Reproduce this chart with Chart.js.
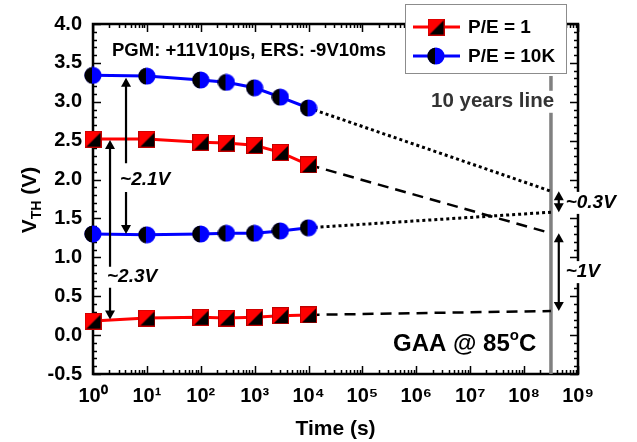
<!doctype html>
<html lang="en">
<head>
<meta charset="utf-8">
<title>VTH retention GAA 85C</title>
<style>
  html, body { margin: 0; padding: 0; background: #fff; }
  canvas { display: block; }
</style>
</head>
<body>
<canvas id="vth" width="637" height="442"></canvas>
<script src="https://cdn.jsdelivr.net/npm/chart.js@4.4.0/dist/chart.umd.min.js"></script>
<script>
// measured data (s, V)
const times = [1, 10, 100, 300, 1000, 3000, 10000];
const pe1Program = [2.52, 2.52, 2.48, 2.47, 2.44, 2.35, 2.19];
const pe1Erase = [0.18, 0.22, 0.23, 0.22, 0.23, 0.25, 0.26];
const pe10kProgram = [3.34, 3.33, 3.28, 3.25, 3.18, 3.06, 2.92];
const pe10kErase = [1.30, 1.29, 1.30, 1.31, 1.31, 1.34, 1.38];

// extrapolation to 10 years: pe1 prog, pe1 ers, 10k prog, 10k ers
const tenYears = 3.15e8;
const extrapTenYears = [1.31, 0.31, 1.85, 1.58];
const tenYearLineRange = [3.33, -0.5];

const xTickExponents = [0, 1, 2, 3, 4, 5, 6, 7, 8, 9];
const yTickValues = [-0.5, 0.0, 0.5, 1.0, 1.5, 2.0, 2.5, 3.0, 3.5, 4.0];

const FONT = "'Liberation Sans', Arial, sans-serif";
const SUP = '⁰¹²³⁴⁵⁶⁷⁸⁹';

function squareMarker() {
  const c = document.createElement('canvas');
  c.width = 17; c.height = 17;
  const g = c.getContext('2d');
  g.fillStyle = '#ff0000';
  g.fillRect(0, 0, 17, 17);
  g.fillStyle = '#000';
  g.beginPath(); g.moveTo(17, 1); g.lineTo(17, 17); g.lineTo(1, 17); g.closePath(); g.fill();
  g.strokeStyle = '#c00000'; g.lineWidth = 1;
  g.strokeRect(0.5, 0.5, 16, 16);
  return c;
}

function circleMarker() {
  const c = document.createElement('canvas');
  c.width = 18; c.height = 18;
  const g = c.getContext('2d');
  g.fillStyle = '#0000ff';
  g.beginPath(); g.arc(9, 9, 8.6, 0, Math.PI * 2); g.fill();
  g.save();
  g.beginPath(); g.arc(9, 9, 8.6, 0, Math.PI * 2); g.clip();
  g.fillStyle = '#000';
  g.fillRect(0, 0, 8, 18);
  g.restore();
  return c;
}

const sq = squareMarker();
const ci = circleMarker();

function series(vals, color, marker) {
  return {
    data: times.map((t, i) => ({ x: t, y: vals[i] })),
    borderColor: color, borderWidth: 3,
    pointStyle: marker, pointRadius: 8, clip: false, order: 1
  };
}

function extrap(vals, end, dash, width) {
  return {
    data: [{ x: times[times.length - 1], y: vals[vals.length - 1] }, { x: tenYears, y: end }],
    borderColor: '#000', borderWidth: width, borderDash: dash,
    pointRadius: 0, order: 2
  };
}

const datasets = [
  series(pe1Program, '#ff0000', sq),
  series(pe1Erase, '#ff0000', sq),
  series(pe10kProgram, '#0000ff', ci),
  series(pe10kErase, '#0000ff', ci),
  extrap(pe1Program, extrapTenYears[0], [11, 7], 2.5),
  extrap(pe1Erase, extrapTenYears[1], [11, 7], 2.5),
  extrap(pe10kProgram, extrapTenYears[2], [3, 3], 3),
  extrap(pe10kErase, extrapTenYears[3], [3, 3], 3),
  {
    data: [{ x: tenYears, y: tenYearLineRange[0] }, { x: tenYears, y: tenYearLineRange[1] }],
    borderColor: '#808080', borderWidth: 3.5, pointRadius: 0, order: 3
  }
];

// frame with inward ticks on all four sides
const framePlugin = {
  id: 'frame',
  beforeDatasetsDraw(chart) {
    const ctx = chart.ctx, a = chart.chartArea;
    const xs = chart.scales.x, ys = chart.scales.y;
    ctx.save();
    ctx.strokeStyle = '#000';
    ctx.lineWidth = 1.5;
    ctx.beginPath();
    for (let e = 0; e <= 9; e++) {
      for (let m = 1; m <= 9; m++) {
        if (e === 9 && m > 1) break;
        const px = Math.round(xs.getPixelForValue(m * Math.pow(10, e))) + 0.5;
        const len = m === 1 ? 8 : 4;
        ctx.moveTo(px, a.bottom); ctx.lineTo(px, a.bottom - len);
        ctx.moveTo(px, a.top); ctx.lineTo(px, a.top + len);
      }
    }
    for (let k = -5; k <= 40; k++) {
      const py = Math.round(ys.getPixelForValue(k / 10)) + 0.5;
      const len = k % 5 === 0 ? 8 : 4;
      ctx.moveTo(a.left, py); ctx.lineTo(a.left + len, py);
      ctx.moveTo(a.right, py); ctx.lineTo(a.right - len, py);
    }
    ctx.stroke();
    ctx.lineWidth = 2.5;
    ctx.strokeRect(a.left, a.top, a.right - a.left, a.bottom - a.top);
    ctx.restore();
  }
};

function head(ctx, x, y, dir) {
  ctx.beginPath();
  ctx.moveTo(x, y);
  ctx.lineTo(x - 5, y - dir * 9);
  ctx.lineTo(x + 5, y - dir * 9);
  ctx.closePath();
  ctx.fill();
}

function arrow(chart, x, top, bottom, gapTop, gapBottom) {
  const ctx = chart.ctx;
  const px = chart.scales.x.getPixelForValue(x);
  const y1 = chart.scales.y.getPixelForValue(top);
  const y2 = chart.scales.y.getPixelForValue(bottom);
  ctx.save();
  ctx.strokeStyle = '#000'; ctx.fillStyle = '#000'; ctx.lineWidth = 2.2;
  ctx.beginPath();
  if (gapTop !== undefined) {
    const g1 = chart.scales.y.getPixelForValue(gapTop);
    const g2 = chart.scales.y.getPixelForValue(gapBottom);
    ctx.moveTo(px, y1 + 5); ctx.lineTo(px, g1);
    ctx.moveTo(px, g2); ctx.lineTo(px, y2 - 5);
  } else {
    ctx.moveTo(px, y1 + 5); ctx.lineTo(px, y2 - 5);
  }
  ctx.stroke();
  head(ctx, px, y1, -1);
  head(ctx, px, y2, 1);
  ctx.restore();
}

function italicLabel(chart, text, x, y, boxed) {
  const ctx = chart.ctx;
  ctx.save();
  ctx.font = 'italic bold 19px ' + FONT;
  ctx.textBaseline = 'middle';
  ctx.textAlign = 'left';
  const px = chart.scales.x.getPixelForValue(x), py = chart.scales.y.getPixelForValue(y);
  if (boxed) {
    ctx.fillStyle = '#fff';
    ctx.fillRect(px - 1, py - 11, ctx.measureText(text).width + 3, 22);
  }
  ctx.fillStyle = '#000';
  ctx.fillText(text, px, py);
  ctx.restore();
}

const notesPlugin = {
  id: 'notes',
  afterDraw(chart) {
    const ctx = chart.ctx, a = chart.chartArea;
    const xs = chart.scales.x, ys = chart.scales.y;

    // ten-year line label over the grey line
    ctx.save();
    ctx.font = 'bold 20.5px ' + FONT;
    ctx.textAlign = 'center';
    ctx.textBaseline = 'middle';
    const tx = xs.getPixelForValue(2.6e7), ty = ys.getPixelForValue(3.0);
    const tw = ctx.measureText('10 years line').width;
    ctx.fillStyle = '#fff';
    ctx.fillRect(tx - tw / 2 - 2, ty - 11, tw + 4, 22);
    ctx.fillStyle = '#333';
    ctx.fillText('10 years line', tx, ty);
    ctx.restore();

    // window arrows
    arrow(chart, 4.1, pe10kProgram[0] - 0.03, pe10kErase[0], 2.21, 1.84);
    arrow(chart, 2.07, pe1Program[0] - 0.01, pe1Erase[0] + 0.02, 0.88, 0.61);
    arrow(chart, 4.4e8, extrapTenYears[2], extrapTenYears[3]);
    arrow(chart, 4.4e8, extrapTenYears[0], extrapTenYears[1]);
    italicLabel(chart, '~2.1V', 3.18, 2.0, false);
    italicLabel(chart, '~2.3V', 1.82, 0.75, false);
    italicLabel(chart, '~0.3V', 5.9e8, 1.70, true);
    italicLabel(chart, '~1V', 5.9e8, 0.81, true);

    // condition text
    ctx.save();
    ctx.fillStyle = '#000';
    ctx.textBaseline = 'alphabetic';
    ctx.font = 'bold 18.5px ' + FONT;
    ctx.fillText('PGM: +11V10μs, ERS: -9V10ms', a.left + 19, 56);
    ctx.font = 'bold 24px ' + FONT;
    let gx = 393, gy = 351;
    ctx.fillText('GAA @ 85', gx, gy);
    gx += ctx.measureText('GAA @ 85').width;
    ctx.font = 'bold 15px ' + FONT;
    ctx.fillText('o', gx, gy - 11);
    gx += ctx.measureText('o').width;
    ctx.font = 'bold 24px ' + FONT;
    ctx.fillText('C', gx, gy);
    ctx.restore();

    // y axis title with subscript
    ctx.save();
    ctx.translate(36, 200);
    ctx.rotate(-Math.PI / 2);
    ctx.fillStyle = '#000';
    ctx.textBaseline = 'alphabetic';
    const parts = [['V', 'bold 21px ', 0], ['TH', 'bold 14px ', 5], [' (V)', 'bold 21px ', 0]];
    let w = 0;
    parts.forEach(p => { ctx.font = p[1] + FONT; w += ctx.measureText(p[0]).width; });
    let cx = -w / 2;
    parts.forEach(p => {
      ctx.font = p[1] + FONT;
      ctx.fillText(p[0], cx, p[2]);
      cx += ctx.measureText(p[0]).width;
    });
    ctx.restore();

    // legend
    ctx.save();
    ctx.fillStyle = '#fff';
    ctx.fillRect(405, 4, 161, 69);
    ctx.strokeStyle = '#8c8c8c';
    ctx.lineWidth = 1;
    ctx.strokeRect(405.5, 4.5, 161, 69);
    const rows = [['P/E = 1', '#ff0000', sq, 27], ['P/E = 10K', '#0000ff', ci, 56]];
    rows.forEach(r => {
      ctx.strokeStyle = r[1];
      ctx.lineWidth = 3;
      ctx.beginPath(); ctx.moveTo(413, r[3]); ctx.lineTo(460, r[3]); ctx.stroke();
      ctx.drawImage(r[2], 436 - r[2].width / 2, r[3] - r[2].height / 2);
      ctx.font = 'bold 19px ' + FONT;
      ctx.fillStyle = '#000';
      ctx.textBaseline = 'middle';
      ctx.fillText(r[0], 468, r[3] + 1);
    });
    ctx.restore();
  }
};

new Chart(document.getElementById('vth'), {
  type: 'line',
  data: { datasets },
  options: {
    responsive: false,
    animation: false,
    devicePixelRatio: 1,
    layout: { padding: { left: 0, right: 59, top: 24, bottom: 0 } },
    plugins: { legend: { display: false }, tooltip: { enabled: false } },
    scales: {
      x: {
        type: 'logarithmic', min: 1, max: 1e9,
        grid: { display: false, drawTicks: false },
        border: { display: false },
        afterBuildTicks: s => { s.ticks = xTickExponents.map(e => ({ value: Math.pow(10, e) })); },
        afterFit: s => { s.height = 68; },
        ticks: {
          autoSkip: false, maxRotation: 0, padding: 10, color: '#000',
          font: { family: FONT, size: 20, weight: 'bold' },
          callback: v => '10' + SUP[Math.round(Math.log10(v))]
        },
        title: {
          display: true, text: 'Time (s)', color: '#000', padding: { top: 4, bottom: 0 },
          font: { family: FONT, size: 21, weight: 'bold' }
        }
      },
      y: {
        min: -0.5, max: 4,
        grid: { display: false, drawTicks: false },
        border: { display: false },
        afterBuildTicks: s => { s.ticks = yTickValues.map(v => ({ value: v })); },
        afterFit: s => { s.width = 93; },
        ticks: {
          padding: 11, color: '#000',
          font: { family: FONT, size: 20, weight: 'bold' },
          callback: v => v.toFixed(1)
        }
      }
    }
  },
  plugins: [framePlugin, notesPlugin]
});
</script>
</body>
</html>
